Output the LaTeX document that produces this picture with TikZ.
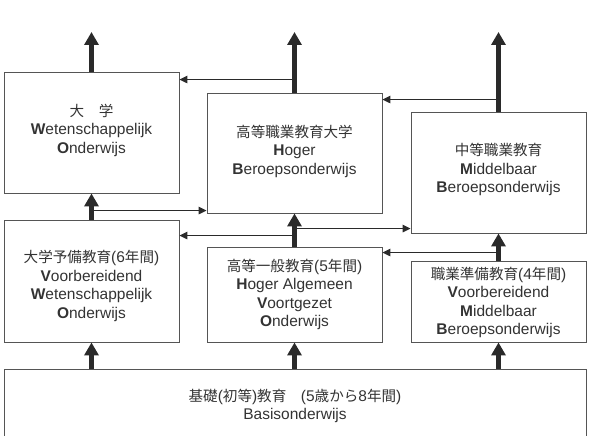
\documentclass[tikz,border=0pt]{standalone}
\usepackage{fontspec}
\setmainfont{Liberation Sans}
\newfontfamily\jp[Scale=0.94]{Noto Sans CJK JP}
\usetikzlibrary{arrows.meta}
\definecolor{boxline}{HTML}{555555}
\definecolor{arrowdark}{HTML}{2A2A2A}
\definecolor{textgray}{HTML}{333333}

\begin{document}
\begin{tikzpicture}[x=1pt,y=-1pt,
  school/.style={draw=boxline,line width=0.9pt,minimum width=175pt,inner sep=0pt},
  caption/.style={inner sep=0pt,align=center,text=textgray,font=\fontsize{15.5}{18.5}\selectfont},
  mainarrow/.style={-{Triangle[length=13pt,width=14pt]},line width=4.5pt,arrowdark},
  crossarrow/.style={-{Triangle[length=8pt,width=7.5pt]},line width=1.2pt,arrowdark}]
\useasboundingbox (0,0) rectangle (589,436);
\clip (0,0) rectangle (589,436);
% upper row
\node[school,minimum height=121pt] (univ) at (91.5,132.5) {};
\node[caption] (univtext) at ([yshift=2.5pt]univ.center)
  {{\jp 大　学}\\\textbf{W}etenschappelijk\\\textbf{O}nderwijs};
\node[school,minimum height=120pt] (hbo) at (294.5,153) {};
\node[caption] (hbotext) at ([yshift=2pt]hbo.center)
  {{\jp 高等職業教育大学}\\\textbf{H}oger\\\textbf{B}eroepsonderwijs};
\node[school,minimum height=121pt] (mbo) at (498.5,172.5) {};
\node[caption] (mbotext) at ([yshift=3pt]mbo.center)
  {{\jp 中等職業教育}\\\textbf{M}iddelbaar\\\textbf{B}eroepsonderwijs};
% middle row
\node[school,minimum height=122pt] (vwo) at (91.5,281) {};
\node[caption] (vwotext) at ([yshift=-5pt]vwo.center)
  {{\jp 大学予備教育}(6{\jp 年間})\\\textbf{V}oorbereidend\\\textbf{W}etenschappelijk\\\textbf{O}nderwijs};
\node[school,minimum height=95pt] (havo) at (294.5,294.5) {};
\node[caption] (havotext) at (havo.center)
  {{\jp 高等一般教育}(5{\jp 年間})\\\textbf{H}oger Algemeen\\\textbf{V}oortgezet\\\textbf{O}nderwijs};
\node[school,minimum height=81pt] (vmbo) at (498.5,301.5) {};
\node[caption] (vmbotext) at ([yshift=-1pt]vmbo.center)
  {{\jp 職業準備教育}(4{\jp 年間})\\\textbf{V}oorbereidend\\\textbf{M}iddelbaar\\\textbf{B}eroepsonderwijs};
% bottom
\node[school,minimum width=582pt,minimum height=71pt] (basis) at (295,404.5) {};
\node[caption] (basistext) at ([yshift=-1.5pt]basis.center)
  {{\jp 基礎}({\jp 初等}){\jp 教育　}(5{\jp 歳から}8{\jp 年間})\\Basisonderwijs};
% exits at the top
\coordinate (univtop) at (91.5,32);
\coordinate (hbotop) at (294.5,32);
\coordinate (mbotop) at (498.5,32);
\draw[mainarrow] (univ.north) -- (univtop);
\draw[mainarrow] (hbo.north) -- (hbotop);
\draw[mainarrow] (mbo.north) -- (mbotop);
\draw[mainarrow] (vwo.north) -- (univ.south);
\draw[mainarrow] (havo.north) -- (hbo.south);
\draw[mainarrow] (vmbo.north) -- (mbo.south);
\draw[mainarrow] (vwo.south |- basis.north) -- (vwo.south);
\draw[mainarrow] (havo.south |- basis.north) -- (havo.south);
\draw[mainarrow] (vmbo.south |- basis.north) -- (vmbo.south);
% transfers
\draw[crossarrow] ([yshift=13pt]hbo.north) -- ([yshift=13pt]hbo.north -| univ.east);
\draw[crossarrow] ([yshift=12pt]mbo.north) -- ([yshift=12pt]mbo.north -| hbo.east);
\draw[crossarrow] ([yshift=9pt]vwo.north) -- ([yshift=9pt]vwo.north -| hbo.west);
\draw[crossarrow] ([yshift=11pt]havo.north) -- ([yshift=11pt]havo.north -| vwo.east);
\draw[crossarrow] ([yshift=18pt]havo.north) -- ([yshift=18pt]havo.north -| mbo.west);
\draw[crossarrow] ([yshift=8pt]vmbo.north) -- ([yshift=8pt]vmbo.north -| havo.east);
\end{tikzpicture}
\end{document}
